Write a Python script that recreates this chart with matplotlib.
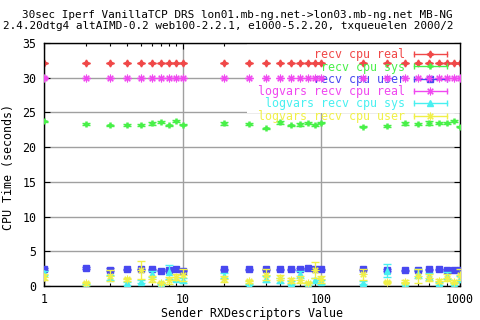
import matplotlib
matplotlib.use("Agg")
import matplotlib.pyplot as plt
from matplotlib.lines import Line2D
from matplotlib.patches import Rectangle
from matplotlib.legend_handler import HandlerBase
from matplotlib.ticker import FixedLocator, FixedFormatter, LogLocator, NullFormatter

# ---------------- data ----------------
rx_desc = [1, 2, 3, 4, 5, 6, 7, 8, 9, 10, 20, 30, 40, 50, 60, 70, 80, 90, 100,
           200, 300, 400, 500, 600, 700, 800, 900, 1000]

recv_real = [32.1, 32.1, 32.1, 32.1, 32.1, 32.1, 32.1, 32.1, 32.1, 32.1, 32.1, 32.1, 32.1, 32.1,
             32.1, 32.1, 32.1, 32.1, 32.1, 32.1, 32.1, 32.1, 32.1, 32.1, 32.1, 32.1, 32.1, 32.1]
recv_real_err = [0.05, 0.05, 0.05, 0.05, 0.05, 0.05, 0.05, 0.05, 0.05, 0.05, 0.05, 0.05, 0.05, 0.05,
                 0.05, 0.05, 0.05, 0.05, 0.05, 0.05, 0.05, 0.05, 0.05, 0.05, 0.05, 0.05, 0.05, 0.05]

recv_sys = [23.73, 23.3, 23.15, 23.2, 23.2, 23.44, 23.63, 23.15, 23.78, 23.25, 23.44, 23.34, 22.72, 23.58,
            23.15, 23.3, 23.49, 23.2, 23.53, 22.96, 23.05, 23.44, 23.3, 23.49, 23.49, 23.44, 23.78, 22.96]
recv_sys_err = [0.1, 0.15, 0.1, 0.1, 0.1, 0.2, 0.15, 0.1, 0.15, 0.05, 0.25, 0.1, 0.1, 0.25,
                0.1, 0.2, 0.15, 0.1, 0.1, 0.1, 0.1, 0.2, 0.15, 0.25, 0.15, 0.15, 0.15, 0.1]

recv_user = [2.45, 2.6, 2.35, 2.4, 2.4, 2.4, 2.2, 2.3, 2.4, 2.2, 2.4, 2.4, 2.4, 2.4,
             2.4, 2.4, 2.55, 2.45, 2.4, 2.4, 2.3, 2.25, 2.25, 2.4, 2.4, 2.25, 2.25, 2.3]
recv_user_err = [0.1, 0.1, 0.25, 0.1, 0.1, 0.1, 0.1, 0.1, 0.1, 0.1, 0.1, 0.1, 0.1, 0.1,
                 0.1, 0.15, 0.1, 0.1, 0.1, 0.1, 0.1, 0.1, 0.1, 0.1, 0.1, 0.15, 0.1, 0.1]

log_real = [29.95, 29.95, 29.95, 29.95, 29.95, 29.95, 29.95, 29.95, 29.95, 29.95, 29.95, 29.95, 29.95, 29.95,
            29.95, 29.95, 29.95, 29.95, 29.95, 29.95, 29.95, 29.95, 29.95, 29.95, 29.95, 29.95, 29.95, 29.95]
log_real_err = [0.1, 0.05, 0.05, 0.05, 0.05, 0.05, 0.05, 0.05, 0.05, 0.05, 0.05, 0.05, 0.05, 0.05,
                0.05, 0.05, 0.05, 0.05, 0.05, 0.05, 0.05, 0.05, 0.05, 0.05, 0.05, 0.05, 0.05, 0.05]

log_sys = [1.9, 0.2, 1.2, 0.4, 0.6, 1.7, 0.4, 2.0, 1.0, 0.8, 1.5, 0.2, 1.0, 0.8,
           0.5, 1.7, 0.3, 0.8, 0.6, 0.5, 2.2, 0.3, 1.8, 1.4, 0.4, 1.5, 0.3, 1.0]
log_sys_err = [0.3, 0.1, 0.4, 0.2, 0.2, 0.4, 0.1, 1.0, 0.3, 0.3, 0.4, 0.1, 0.4, 0.3,
               0.2, 0.5, 0.1, 0.4, 0.3, 0.2, 0.9, 0.1, 0.6, 0.5, 0.2, 0.5, 0.1, 0.4]

log_user = [1.3, 0.4, 1.5, 0.95, 2.3, 1.0, 0.5, 0.85, 1.3, 1.6, 1.0, 0.7, 1.6, 1.2,
            0.8, 0.9, 0.5, 2.3, 1.0, 1.7, 0.6, 0.6, 1.4, 1.2, 0.7, 1.2, 0.6, 1.6]
log_user_err = [0.4, 0.2, 0.8, 0.2, 1.3, 0.4, 0.1, 0.5, 0.4, 0.9, 0.4, 0.2, 0.8, 0.4,
                0.4, 0.5, 0.1, 1.2, 0.5, 0.8, 0.1, 0.2, 1.0, 0.5, 0.3, 0.5, 0.2, 0.8]

series_labels = ["recv cpu real", "recv cpu sys", "recv cpu user",
                 "logvars recv cpu real", "logvars recv cpu sys", "logvars recv cpu user"]

x_ticks = [1, 10, 100, 1000]
x_tick_labels = ["1", "10", "100", "1000"]
y_ticks = [0, 5, 10, 15, 20, 25, 30, 35]

title_line1 = "30sec Iperf VanillaTCP DRS lon01.mb-ng.net->lon03.mb-ng.net MB-NG"
title_line2 = "2.4.20dtg4 altAIMD-0.2 web100-2.2.1, e1000-5.2.20, txqueuelen 2000/2"
x_label = "Sender RXDescriptors Value"
y_label = "CPU Time (seconds)"

# ---------------- style ----------------
plt.rcParams["font.family"] = ["DejaVu Sans Mono"]
plt.rcParams["font.size"] = 8.4

colors = ["#f04848", "#48f048", "#4848f0", "#f048f0", "#48f0f0", "#f0f048"]
markers = [(4, 1, 0), "+", "s", (8, 2, 0), "^", (8, 2, 0)]
msizes = [5.0, 5, 4.2, 5.5, 4.2, 5.5]
mews = [1.0, 1.8, 1.0, 0.8, 1.0, 0.8]

fig = plt.figure(figsize=(4.8, 3.2), dpi=100)
W, H = 480.0, 320.0
L, R, T, B = 44, 460, 43, 286
ax = fig.add_axes([L / W, 1 - B / H, (R - L) / W, (B - T) / H])

ax.set_xscale("log")
ax.set_xlim(1, 1000)
ax.set_ylim(0, 35)

# grid
ax.set_axisbelow(True)
ax.grid(True, which="major", color="#a0a0a0", linewidth=1.0)

# opaque key background (drawn under data, above grid)
ax.add_patch(Rectangle(((247 - L) / (R - L), (B - 113) / (B - T)),
                       1 - (247 - L) / (R - L), 1 - (B - 113) / (B - T),
                       transform=ax.transAxes, facecolor="white", edgecolor="none", zorder=1))

ys = [recv_real, recv_sys, recv_user, log_real, log_sys, log_user]
es = [recv_real_err, recv_sys_err, recv_user_err, log_real_err, log_sys_err, log_user_err]
handles = []
for i, (y, e) in enumerate(zip(ys, es)):
    ax.errorbar(rx_desc, y, yerr=e, fmt="none", ecolor=colors[i], elinewidth=1.0,
                capsize=3, capthick=1.0, zorder=2 + i)
    ax.plot(rx_desc, y, linestyle="none", marker=markers[i], markersize=msizes[i],
            color=colors[i], markeredgewidth=mews[i], zorder=2.5 + i)
    handles.append(Line2D([], [], color=colors[i], marker=markers[i],
                          markersize=msizes[i], markeredgewidth=mews[i]))


class KeyHandler(HandlerBase):
    def create_artists(self, legend, orig_handle, xdescent, ydescent, width, height,
                       fontsize, trans):
        y = height / 2 - ydescent
        x0, x1 = -xdescent, -xdescent + width
        c = orig_handle.get_color()
        ln = Line2D([x0, x1], [y, y], color=c, lw=1.0)
        caps = Line2D([x0, x1], [y, y], color=c, ls="none", marker="|", markersize=5,
                      markeredgewidth=1.0)
        mk = Line2D([(x0 + x1) / 2], [y], color=c, ls="none", marker=orig_handle.get_marker(),
                    markersize=orig_handle.get_markersize(),
                    markeredgewidth=orig_handle.get_markeredgewidth())
        for a in (ln, caps, mk):
            a.set_transform(trans)
        return [ln, caps, mk]


leg = ax.legend(handles, series_labels, loc="upper right",
                bbox_to_anchor=((452 - L) / (R - L), 1.0), borderaxespad=0,
                borderpad=0.45, frameon=False, markerfirst=False,
                handlelength=2.85, handletextpad=0.7, labelspacing=-0.06,
                handler_map={Line2D: KeyHandler()})
for t, c in zip(leg.get_texts(), colors):
    t.set_color(c)

# ticks
ax.xaxis.set_major_locator(FixedLocator(x_ticks))
ax.xaxis.set_major_formatter(FixedFormatter(x_tick_labels))
ax.xaxis.set_minor_locator(LogLocator(base=10, subs=range(2, 10)))
ax.xaxis.set_minor_formatter(NullFormatter())
ax.set_yticks(y_ticks)
ax.tick_params(which="both", direction="in", top=True, right=True, width=0.8, color="black")
ax.tick_params(which="major", length=4.4)
ax.tick_params(which="minor", length=2.4)
ax.tick_params(axis="x", which="major", pad=5)
ax.tick_params(axis="y", which="major", pad=5.5)
for s in ax.spines.values():
    s.set_linewidth(1.0)
    s.set_color("black")

ax.set_xlabel(x_label)
ax.xaxis.label.set_va("center")
ax.xaxis.set_label_coords(0.5, (B - 313) / (B - T))
ax.set_ylabel(y_label)
ax.yaxis.label.set_va("center")
ax.yaxis.set_label_coords((9 - L) / (R - L), 0.49)

fig.text(21.7 / W, 1 - 14.6 / H, title_line1, ha="left", va="center", fontsize=7.9)
fig.text(2.7 / W, 1 - 26.2 / H, title_line2, ha="left", va="center", fontsize=7.9)

fig.savefig("out.png", dpi=100)
